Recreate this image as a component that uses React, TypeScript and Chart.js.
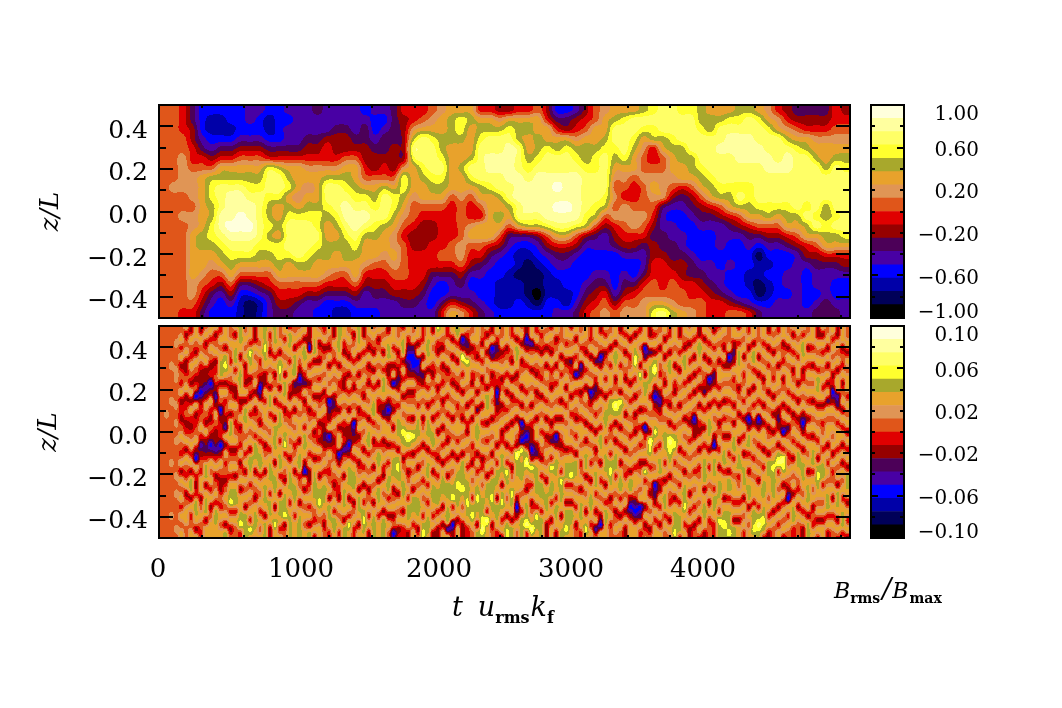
import { useEffect, useRef } from "react"
import { Chart, registerables } from "chart.js"
import type { Plugin } from "chart.js"

Chart.register(...registerables)

const WIDTH = 1062
const HEIGHT = 708
const SERIF = "'DejaVu Serif'"

// colour bands, lowest value first
const bandColors = [
  "#000000", "#000058", "#0000a8", "#0000ff", "#4800a4", "#4c0058", "#960000", "#e00000",
  "#e0561a", "#e09555", "#e8a22c", "#a8a82c", "#ffff2e", "#ffff66", "#ffff9f", "#ffffdc",
]

const T_MAX = 4866
const timeTicks = [0, 1000, 2000, 3000, 4000]
const timeLabels = ["0", "1000", "2000", "3000", "4000"]
const timeLabelNudge = [-1, 0, -4, -14, -24]
const zTicks = [0.4, 0.2, 0, -0.2, -0.4]
const zLabels = ["0.4", "0.2", "0.0", "−0.2", "−0.4"]
const topBarLabels = ["1.00", "0.60", "0.20", "−0.20", "−0.60", "−1.00"]
const bottomBarLabels = ["0.10", "0.06", "0.02", "−0.02", "−0.06", "−0.10"]

// One string per time column, one band digit per height, top to bottom.
const topColumns = [
  "8888888888888888888888", "8888888898888888888888", "7778899998898888888887", "5566778999899aaaaa9987",
  "3334578aaaaaabbaa98765", "3223468bccbbccba987543", "322357abdddeedcba86433", "332357abdeeefedcba8643",
  "333468abdeeffedca85322", "443468abcdeefedca85311", "433468abcdddddcba86422", "322357cddcbbcbcba87544",
  "333357bddcaabaccba8765", "434457abcabcdddcaa8765", "444457aaa9acddddba8754", "4445679a9abcdddcba8644",
  "5445679aaabccdcbaa8643", "4446779bddcbaabba97533", "4456679bdddcbabaa87532", "445668abcdeedcbba87532",
  "444568aabcdeedcbaa8643", "34556678acdedbaa976443", "43345668abcdcbaa876543", "43455678bdddbaa9876544",
  "55556668accba99a987644", "7666669ccba98788887654", "779bdcaaa9887667777654", "78adddcbaa876667776544",
  "89acdddcba876677754334", "9aabbcdcba877778753357", "abbbaaaaa877778875447a", "accbaabaa9888899865469",
  "abaaabdca8779a87643457", "7abcddddba87aa87543345", "7abddeedcaaaaa75433334", "69bddeeddbaba864332223",
  "6acdeeeeddba8543322223", "7abbdddeeedda532212233", "7abaabcdeeedb532111123", "8aabbcdeeeedb643211013",
  "67aacddeeeeec864322233", "357abddefefeda75432234", "356acddeeefeda75433224", "4679bcdeeeeec864333345",
  "678abbcddddcb643334567", "88aabccdddcb8543345678", "9aabcddddcb86443345789", "abddcba989897653333468",
  "acdddca987998764345689", "addcbaa877899764335789", "bdca988988898754457899", "cdcb7789a98765667788ac",
  "dddba889995445567778ad", "dddcbaa98643445567889b", "cdddbbaa7543344566788a", "cddddbba86543334557789",
  "bbcdddcba8654333456788", "abbddddcba754333445677", "abddedddcb864443344577", "acdeedddcba75433433468",
  "bcdeeeddcdb86433333358", "bddeeeddccba7543322347", "acddeeddddca8531221135", "9acddeedddcb8643232234",
  "79adddedddca8643333344", "679bdeedddcba753344344", "568acddddddba864444444", "567abdddddcdba76433334",
  "5679abdddddcda86544345", "5679aabdddbbcba7544455", "7789abdddddcdba7543345", "6789abcddddddca7643344",
]

const bottomColumns = [
  "888888888888888888888888", "888888888988888888888888", "888988898888889888889888", "898899889898988898988898",
  "8a7a687a6768a87a6a8a7a8a", "a68a668a67867a6a87a68aa8", "6a87a86a6a768a7a6bb6a78a", "a86a8683a678a63a767bba6a",
  "6a8a7663678a74687aa68a87", "8a68a6646a86a657bb6abb6a", "8a7a86736a768636a8a7a68a", "a68a678646a86647a68a7bba",
  "7a8abb6a8367736a86687a8a", "a6bca6a7864a6a7868a8a6bb", "8a87a868a6bba68a7abc7a68", "a6abb7a66a878a68a6abb7a8",
  "bba6abba67a687a68a6aabc7", "8a8a676a6bba8a7a6a8a6bbb", "a7cba686a7a8a6bba7a8a7ca", "6a8a8a6a68a7bba6a86abba7",
  "a8a78635a86a7abb7a8a7a8a", "bbcba66a7aa8a68a6abba6bb", "a786a8a6bb7a8a7abba7bba6", "bba7a68a6a6bbba6abba6aca",
  "8a6bcb6a7bba7abb7a6bba7a", "a7a8a6bba68abc7a86abbc68", "6bba7aa76a78a8a6abba7abb", "a8a6bbb56a6a8a78a6abba7a",
  "8a7a86367a8aa6abb78a6abb", "a6bba75a68a7bba63a6a8a8a", "63a7a68a68a8a7a668a7a6bb", "abb6a8a6a7a68a6abbba87a6",
  "8a686a7a68a686a7a6abca8a", "7a68a8a68a76568a7abba868", "a86a6a8a356a36a878a6bba7", "6a87a8a657a8678a868a7bba",
  "bba6a78a6a6aa36a876a8a7a", "a76a866a8a76748a6abba6bb", "8a86a6a7a6a6636abba6a7ca", "a68a7a86a8a356a7abba68a7",
  "bba6a6a8a68a68a68a6bba6a", "6a7a8a86a7a8a6a7a6a7bcba", "a86a686a8a6abb7a8a68a7a6", "8a86a6a7abb7a68a6a8a6abb",
  "7a68a8a6a76a8a7bba6bba7a", "a8a6a7bba65aa68a76a8a6bb", "6abb668a636aa6a7abb7a6a8", "a7a6a3a86a6a7abba68a6834",
  "8a68656a7abba6bcba6a8a67", "6abb6a7a6a8acba68abba6a7", "a75356a68a7adb7a68a7bba6", "8a5336a68a6aca6a8a6bba7a",
  "a6a3468a7abba7a6a8abba68", "7a6a56a8a68a6a8a7a8a7bcb", "abba6a7a6abba6abb7a7abba", "6a8a768a7a6abb7a6abba7a6",
  "ca76a8a68a7a6a86a7abb7a6", "a86a687a68a6a7a6abba6a6a", "7a8a68a7a7a86a7a6bbabb4a", "a6a6a86a8a6a8a6a8abc7a36",
  "bb7a6a86a78aa7a6abcbba6a", "6a36da7a6a86a8a6bbbca8a6", "a756caa8a6a76a8a7abbcba7", "8a68a76a7a6aa786a8a7bca8",
  "a86a8a6a5abba6a7abcba6bb", "86a7a68a6a7a8a67a8abbcdb", "a6a6a8a6bba6a7a8a6bba7da", "6a35a67a8a6a8a6a7bbcba68",
  "a756a873568aa6a7bba6bba7", "8a68a68a68a67abba6bca7a6", "a68a7a6a7a6a6a7cba8a6bcb", "7a86a6a68a6aa7a68acba6bb",
  "a6bba68a7a6a86dbbaa636a8", "8a6a68a6a6a363cabba8a7bb", "636a7aa7a8a636bda86abbd7", "a48a6a8a6a76636ca7a68ada",
  "7a6a86a68a6aa65abbba7cba", "a786a87a6a8a7a86a7bba7bb", "a8a6a6a8a7a6a68a8a6abba6", "6a86a786a8a685a7cabb7a6a",
  "a68a6a7a8a6a36abbaa7bba6", "8a6a7aa6a6a868a7cbba6abb", "a7a68a6a7a8aa6abb7a6bbca", "6a8a578a6a7a8a7abc7a6bba",
  "a6a7a3a7a86a7a6bba8a7a68", "8a7a46a68a7aa8a78a6abba7", "a86a7a6a8a6a6abb6a8a6aca", "7a6a8a368a6a8a7a6abba7a6",
  "a8a5a756a7a6a68abb7a6a48", "6a836aa6a8a7bba6a7a8a63a", "a7a68a7a6abba7abba6a7bba", "8a6a7aa7bba78a7bcba68a78",
  "a6bba68adb6a6abb7a8a68a8", "6a8a7aa6cba6a7a6abb7a6a8", "a7a6a86a8a6a8a6a87a8a6a6", "8a6a78a6a7a8a7a8a6bb636a",
  "a6abda7a6a686a8a7aa8536a", "7a8a6ca8a6a7a7a68a8a35a7", "a35a6bba7a378a6c7aa6a68a", "6a5abba7a8a6dca7a86a8a68",
  "a7a6bda6368aca7a8a356a7a", "8a6a87a6468aa7abb76a7a6a", "a6a6a86a7a8abba7a6abb7a8", "7a6bbaa86a6adcba6a87a6a8",
  "a8a6a76a8a7bca7a8a6abbca", "6a7a6a8a6a8aa6a8a7a7abb7", "a86bba7a8a6a8a7a6abbca7a", "8a6a7a6a7a86a7a8a8a6a7a6",
  "a7a6a6a6a8366a8a7a8a7a68", "6bba7a6a6a76a6a78aa8a6a7", "a6a6a875a7a6a7abbb6abba6", "8a7a6a36a6abba6a7a8a6a78",
  "a6a7a856a7a8a63abba7bba7", "7a8a6aa7a6a68a7a6abba7cb", "a86a6a8a6a7a6abb7aa6abcb", "8a36a8a7a8a6a7a6bb7abbca",
  "a656a78a6a6abb7a8aa7a6bb", "6a7bbaa68a6aa6abb78a7a6a", "a8a6a78a7a6a7a6abba6a8a7", "7a6a8aa6a836bb7a6abb6a8a",
  "a6bb7a6a7a6a8a7a8aa7bbca", "8a6a6aa7a36a7a8a6aa7bdba", "a7a8a68a6a6aa6a7abbabcb7", "6a6a7aa6a8a68a6bbaa8a7a6",
  "a8a6a87a6a6a6a8acbbba6a8", "7a8a6aa8a656a6bd7a8a6a7a", "a687a68a6a73a7dca6a7a8a6", "8a6a8aa7a6a58a78a863a7a8",
  "a6a7a68a7a68a7a6a8a6abb7", "6a8a7aa6a6a68a7bba87a6a8", "a7bba67a8a636a6abba8a7a6", "8a6a7a8a7a6a7a8a6abba6bb",
  "a7a6a8a6a8a6abb7a8a687a8", "6a8a7bba6a8a7a6bcba8a6a7", "a6a7a8a7a6a78a7abb7a8a6a", "8a6a6a6a5a8aa6a7a8abb7a6",
  "a7a8a6736a8a8a6a78a6a7a8", "6a8a6aa45a7aa7a8a6bba6a7", "a687a68a6a7a6a6a8a7abb7a", "8a6a8aa7a8a6a7a6bba6a7a6",
]

// zigzag of the fine streaks: rows a column is slid by, repeating along time
const bottomZigzag = [0, 0.5, 1, 0.5, 0, -0.5, 0, 0.5, 0, -0.5, -1, -0.5, 0, 1, 0.5, -0.5, 0]
const noZigzag = [0]

const topRange = 1
const bottomRange = 0.1

const xTitle = [
  { text: "t", font: `italic 27px ${SERIF}`, dy: 0, gap: 15 },
  { text: "u", font: `italic 27px ${SERIF}`, dy: 0, gap: 0 },
  { text: "rms", font: `bold 16px ${SERIF}`, dy: 7, gap: 1 },
  { text: "k", font: `italic 27px ${SERIF}`, dy: 0, gap: 0 },
  { text: "f", font: `bold 16px ${SERIF}`, dy: 7, gap: 0 },
]
const barTitle = [
  { text: "B", font: `italic 22px ${SERIF}`, dy: 0, gap: 0 },
  { text: "rms", font: `bold 14px ${SERIF}`, dy: 5, gap: 2 },
  { text: "/", font: `italic 27px ${SERIF}`, dy: 0, gap: 1 },
  { text: "B", font: `italic 22px ${SERIF}`, dy: 0, gap: 1 },
  { text: "max", font: `bold 14px ${SERIF}`, dy: 5, gap: 0 },
]

function hexToRgb(hex: string) {
  return [1, 3, 5].map((i) => parseInt(hex.slice(i, i + 2), 16))
}

const bandRgb = bandColors.map(hexToRgb)

function isMultiple(value: number, step: number) {
  const q = value / step
  return Math.abs(q - Math.round(q)) < 1e-6
}

function drawRuns(ctx: CanvasRenderingContext2D, x: number, y: number, runs: typeof xTitle) {
  ctx.textAlign = "left"
  ctx.textBaseline = "alphabetic"
  let pen = x
  for (const run of runs) {
    ctx.font = run.font
    ctx.fillText(run.text, pen, y + run.dy)
    pen += ctx.measureText(run.text).width + run.gap
  }
}

// weights of the four neighbours along one axis
function kernel(f: number, sharp: boolean) {
  if (sharp) {
    const s = f * f * (3 - 2 * f)
    return [0, 1 - s, s, 0]
  }
  const f2 = f * f
  const f3 = f2 * f
  return [
    -0.5 * f3 + f2 - 0.5 * f,
    1.5 * f3 - 2.5 * f2 + 1,
    -1.5 * f3 + 2 * f2 + 0.5 * f,
    0.5 * f3 - 0.5 * f2,
  ]
}

// filled contours: the field between the read values is cut into the colour bands
const fieldPlugin: Plugin = {
  id: "field",
  beforeDatasetsDraw(chart, _args, opts: any) {
    const { ctx, chartArea, scales } = chart
    const { left, top } = chartArea
    const w = Math.round(chartArea.width)
    const h = Math.round(chartArea.height)
    const points = chart.data.datasets[0].data as any[]
    const { cols, rows, range, sharp, zigzag } = opts
    const image = ctx.createImageData(w, h)

    const clampTo = (i: number, n: number) => Math.max(0, Math.min(n - 1, i))
    const xs = Array.from({ length: w }, (_, px) => {
      const u = clampTo((scales.x.getValueForPixel(left + px + 0.5)! / T_MAX) * cols - 0.5, cols)
      return { i: Math.floor(u), k: kernel(u - Math.floor(u), sharp) }
    })
    const ys = Array.from({ length: h }, (_, py) => (0.5 - scales.y.getValueForPixel(top + py + 0.5)!) * rows - 0.5)

    for (let py = 0; py < h; py++) {
      for (let px = 0; px < w; px++) {
        const { i, k: kx } = xs[px]
        let value = 0
        for (let a = 0; a < 4; a++) {
          if (kx[a] === 0) continue
          const c = clampTo(i + a - 1, cols)
          const v = clampTo(ys[py] - zigzag[c % zigzag.length], rows)
          const j = Math.floor(v)
          const ky = kernel(v - j, sharp)
          for (let b = 0; b < 4; b++) {
            if (ky[b] === 0) continue
            value += kx[a] * ky[b] * points[c * rows + clampTo(j + b - 1, rows)].v
          }
        }
        const band = Math.max(0, Math.min(15, Math.floor(((value + range) / (2 * range)) * 16)))
        const rgb = bandRgb[band]
        const at = (py * w + px) * 4
        image.data[at] = rgb[0]
        image.data[at + 1] = rgb[1]
        image.data[at + 2] = rgb[2]
        image.data[at + 3] = 255
      }
    }
    ctx.putImageData(image, left, top)
  },
}

const panelAxes: Plugin = {
  id: "panelAxes",
  afterDraw(chart, _args, opts: any) {
    const { ctx, chartArea: area, scales } = chart
    const { x, y } = scales
    ctx.save()
    ctx.strokeStyle = "#000"
    ctx.fillStyle = "#000"
    ctx.lineWidth = 2
    ctx.strokeRect(area.left, area.top, area.width, area.height)

    ctx.beginPath()
    y.ticks.forEach((tick) => {
      const py = Math.round(y.getPixelForValue(tick.value))
      const len = isMultiple(tick.value, 0.2) ? 14 : 7
      ctx.moveTo(area.left, py)
      ctx.lineTo(area.left + len, py)
      ctx.moveTo(area.right, py)
      ctx.lineTo(area.right - len, py)
    })
    x.ticks.forEach((tick) => {
      const px = Math.round(x.getPixelForValue(tick.value))
      const len = isMultiple(tick.value, 1000) ? 5 : 3
      ctx.moveTo(px, area.top)
      ctx.lineTo(px, area.top + len)
      ctx.moveTo(px, area.bottom)
      ctx.lineTo(px, area.bottom - len)
    })
    ctx.stroke()

    ctx.font = `25px ${SERIF}`
    ctx.textAlign = "right"
    ctx.textBaseline = "middle"
    zTicks.forEach((value, i) => {
      ctx.fillText(zLabels[i], 148, y.getPixelForValue(value) + 5)
    })

    ctx.save()
    ctx.translate(opts.titleX, (area.top + area.bottom) / 2)
    ctx.rotate(-Math.PI / 2)
    ctx.font = `italic 26px ${SERIF}`
    ctx.textAlign = "center"
    ctx.textBaseline = "alphabetic"
    ctx.fillText("z/L", 0, 0)
    ctx.restore()

    if (opts.showTime) {
      ctx.font = `26px ${SERIF}`
      ctx.textAlign = "center"
      timeTicks.forEach((value, i) => {
        ctx.fillText(timeLabels[i], x.getPixelForValue(value) + timeLabelNudge[i], area.bottom + 32)
      })
      drawRuns(ctx, 452, 616, xTitle)
      drawRuns(ctx, 834, 598, barTitle)
    }
    ctx.restore()
  },
}

const barAxes: Plugin = {
  id: "barAxes",
  afterDraw(chart, _args, opts: any) {
    const { ctx, chartArea: area, scales } = chart
    const y = scales.y
    const range = opts.range
    ctx.save()
    ctx.strokeStyle = "#000"
    ctx.fillStyle = "#000"
    ctx.lineWidth = 2
    ctx.strokeRect(area.left, area.top, area.width, area.height)

    ctx.beginPath()
    for (let i = 1; i < 10; i++) {
      const py = Math.round(y.getPixelForValue(-range + (i * range) / 5))
      const len = i === 2 || i === 8 ? 7 : 4
      ctx.moveTo(area.left, py)
      ctx.lineTo(area.left + len, py)
      ctx.moveTo(area.right, py)
      ctx.lineTo(area.right - len, py)
    }
    ctx.stroke()

    ctx.font = `20px ${SERIF}`
    ctx.textAlign = "right"
    ctx.textBaseline = "middle"
    opts.labels.forEach((label: string, i: number) => {
      const py = y.getPixelForValue(range - (i * 2 * range) / 5) + 3
      ctx.fillText(label, 979, Math.max(area.top + 10, Math.min(area.bottom - 5, py)))
    })
    ctx.restore()
  },
}

function padding(left: number, top: number, right: number, bottom: number) {
  return { left, top, right: WIDTH - right, bottom: HEIGHT - bottom }
}

function makePanel(canvas: HTMLCanvasElement, columns: string[], range: number, sharp: boolean, zigzag: number[], top: number, bottom: number, titleX: number, showTime: boolean) {
  const cols = columns.length
  const rows = columns[0].length
  const points = columns.flatMap((col, i) =>
    Array.from({ length: rows }, (_, j) => ({
      x: ((i + 0.5) * T_MAX) / cols,
      y: 0.5 - (j + 0.5 + zigzag[i % zigzag.length]) / rows,
      v: ((parseInt(col[j] ?? "9", 16) + 0.5) / 16) * 2 * range - range,
    })),
  )
  return new Chart(canvas, {
    type: "scatter",
    data: { datasets: [{ data: points, pointRadius: 0 }] },
    plugins: [fieldPlugin, panelAxes],
    options: {
      animation: false,
      responsive: false,
      devicePixelRatio: 1,
      layout: { padding: padding(159, top, 850, bottom) },
      scales: {
        x: { type: "linear", display: false, min: 0, max: T_MAX, ticks: { stepSize: 100, includeBounds: false } },
        y: { type: "linear", display: false, min: -0.5, max: 0.5, ticks: { stepSize: 0.05 } },
      },
      plugins: {
        legend: { display: false },
        tooltip: { enabled: false },
        field: { cols, rows, range, sharp, zigzag },
        panelAxes: { titleX, showTime },
      } as any,
    },
  })
}

function makeColorBar(canvas: HTMLCanvasElement, range: number, labels: string[], top: number, bottom: number) {
  const step = (2 * range) / bandColors.length
  return new Chart(canvas, {
    type: "bar",
    data: {
      labels: [""],
      datasets: bandColors.map((color, i) => ({
        data: [[-range + i * step, -range + (i + 1) * step]] as any,
        backgroundColor: color,
        grouped: false,
        barPercentage: 1,
        categoryPercentage: 1,
      })),
    },
    plugins: [barAxes],
    options: {
      animation: false,
      responsive: false,
      devicePixelRatio: 1,
      layout: { padding: padding(871, top, 904, bottom) },
      scales: {
        x: { display: false },
        y: { display: false, min: -range, max: range },
      },
      plugins: {
        legend: { display: false },
        tooltip: { enabled: false },
        barAxes: { range, labels },
      } as any,
    },
  })
}

export default function App() {
  const topRef = useRef<HTMLCanvasElement>(null)
  const bottomRef = useRef<HTMLCanvasElement>(null)
  const topBarRef = useRef<HTMLCanvasElement>(null)
  const bottomBarRef = useRef<HTMLCanvasElement>(null)

  useEffect(() => {
    if (!topRef.current || !bottomRef.current || !topBarRef.current || !bottomBarRef.current) return
    const charts = [
      makePanel(topRef.current, topColumns, topRange, false, noZigzag, 105, 318, 58, false),
      makePanel(bottomRef.current, bottomColumns, bottomRange, true, bottomZigzag, 326, 538, 56, true),
      makeColorBar(topBarRef.current, topRange, topBarLabels, 105, 318),
      makeColorBar(bottomBarRef.current, bottomRange, bottomBarLabels, 326, 538),
    ]
    return () => charts.forEach((chart) => chart.destroy())
  }, [])

  const layer = { position: "absolute", left: 0, top: 0 } as const
  return (
    <div style={{ position: "absolute", left: 0, top: 0, width: WIDTH, height: HEIGHT, background: "#fff" }}>
      <canvas ref={topRef} width={WIDTH} height={HEIGHT} style={layer} />
      <canvas ref={bottomRef} width={WIDTH} height={HEIGHT} style={layer} />
      <canvas ref={topBarRef} width={WIDTH} height={HEIGHT} style={layer} />
      <canvas ref={bottomBarRef} width={WIDTH} height={HEIGHT} style={layer} />
    </div>
  )
}
